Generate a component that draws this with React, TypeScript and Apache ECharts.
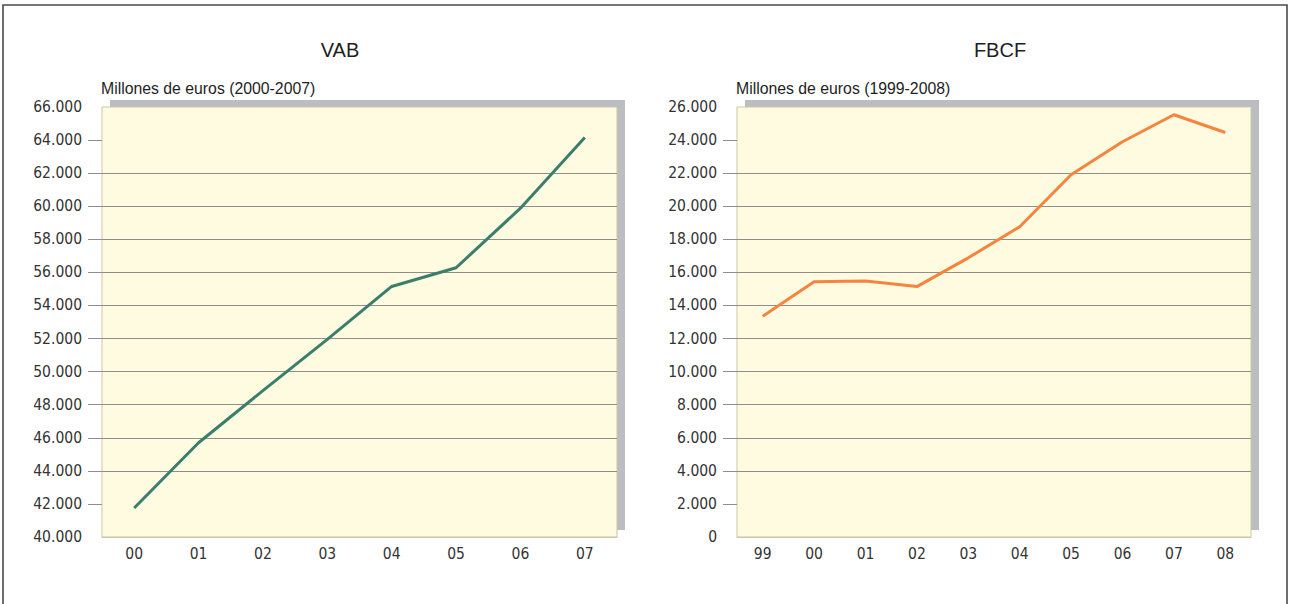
import React, { useEffect, useRef } from "react";
import * as echarts from "echarts";

const vabYears = ["00", "01", "02", "03", "04", "05", "06", "07"];
const vabValues = [41750, 45700, 48850, 51950, 55150, 56280, 59880, 64150];
const vabTicks = [40000, 42000, 44000, 46000, 48000, 50000, 52000, 54000, 56000, 58000, 60000, 62000, 64000, 66000];

const fbcfYears = ["99", "00", "01", "02", "03", "04", "05", "06", "07", "08"];
const fbcfValues = [13340, 15430, 15480, 15140, 16880, 18760, 21900, 23900, 25530, 24460];
const fbcfTicks = [0, 2000, 4000, 6000, 8000, 10000, 12000, 14000, 16000, 18000, 20000, 22000, 24000, 26000];

const titles = ["VAB", "FBCF"];
const subtitles = ["Millones de euros (2000-2007)", "Millones de euros (1999-2008)"];

const W = 1290;
const H = 604;
const G = [
  { left: 102, top: 107, width: 515, height: 430 },
  { left: 737, top: 107, width: 514, height: 430 },
];
const TITLE_X = [340, 1000];

const NARROW = "'Liberation Sans Narrow', 'DejaVu Sans Condensed', sans-serif";
const SANS = "'Liberation Sans', Arial, sans-serif";

const fmt = (v: number) => {
  if (v === 0) return "0";
  const s = String(Math.round(v));
  return s.replace(/\B(?=(\d{3})+(?!\d))/g, ".");
};

function yAxis(gridIndex: number, ticks: number[]) {
  const min = ticks[0];
  const max = ticks[ticks.length - 1];
  return {
    type: "value",
    gridIndex,
    min,
    max,
    interval: ticks[1] - ticks[0],
    axisLine: { show: false },
    axisTick: {
      show: true,
      length: 14,
      lineStyle: { color: "#8e8e8e", width: 1 },
      customValues: ticks.slice(1, ticks.length - 1),
    },
    axisLabel: {
      margin: 20,
      formatter: fmt,
      color: "#333333",
      fontSize: 15.5,
      fontFamily: NARROW,
    },
    splitLine: {
      show: true,
      showMinLine: false,
      showMaxLine: false,
      lineStyle: { color: "#8e8e8e", width: 1 },
    },
  };
}

function xAxis(gridIndex: number, cats: string[]) {
  return {
    type: "category",
    gridIndex,
    data: cats,
    boundaryGap: true,
    axisLine: { show: true, lineStyle: { color: "#cbc7a6", width: 1 } },
    axisTick: { show: false },
    axisLabel: {
      margin: 9,
      color: "#333333",
      fontSize: 15.5,
      fontFamily: NARROW,
    },
    splitLine: { show: false },
  };
}

export default function App() {
  const ref = useRef<HTMLDivElement>(null);
  useEffect(() => {
    document.body.style.margin = "0";
    const chart = echarts.init(ref.current!, undefined, { renderer: "svg" });
    const graphics: any[] = [
      {
        type: "rect",
        z: -20,
        shape: { x: 3, y: 5, width: 1284, height: 700 },
        style: { fill: "#ffffff", stroke: "#4a4a4a", lineWidth: 1.6 },
      },
    ];
    G.forEach((g, i) => {
      graphics.push({
        type: "rect",
        z: -10,
        shape: { x: g.left + 8, y: g.top - 7, width: g.width, height: g.height },
        style: { fill: "#bcbdc1" },
      });
      graphics.push({
        type: "text",
        x: TITLE_X[i],
        y: 50,
        style: {
          text: titles[i],
          fontSize: 20,
          fontFamily: SANS,
          fill: "#1e1e1e",
          textAlign: "center",
          textVerticalAlign: "middle",
        },
      });
      graphics.push({
        type: "text",
        x: g.left - 1,
        y: 88,
        style: {
          text: subtitles[i],
          fontSize: 15.8,
          fontFamily: SANS,
          fill: "#1e1e1e",
          textAlign: "left",
          textVerticalAlign: "middle",
        },
      });
    });

    chart.setOption({
      animation: false,
      backgroundColor: "#ffffff",
      grid: G.map((g) => ({
        ...g,
        show: true,
        backgroundColor: "#fefbe0",
        borderColor: "#cbc7a6",
        borderWidth: 1,
        containLabel: false,
      })),
      xAxis: [xAxis(0, vabYears), xAxis(1, fbcfYears)],
      yAxis: [yAxis(0, vabTicks), yAxis(1, fbcfTicks)],
      series: [
        {
          type: "line",
          name: "VAB",
          xAxisIndex: 0,
          yAxisIndex: 0,
          data: vabValues,
          symbol: "none",
          lineStyle: { color: "#3a7e6b", width: 3 },
          z: 5,
        },
        {
          type: "line",
          name: "FBCF",
          xAxisIndex: 1,
          yAxisIndex: 1,
          data: fbcfValues,
          symbol: "none",
          lineStyle: { color: "#f6843f", width: 3 },
          z: 5,
        },
      ],
      graphic: graphics,
    });
    return () => chart.dispose();
  }, []);
  return <div ref={ref} style={{ width: W, height: H }} />;
}
